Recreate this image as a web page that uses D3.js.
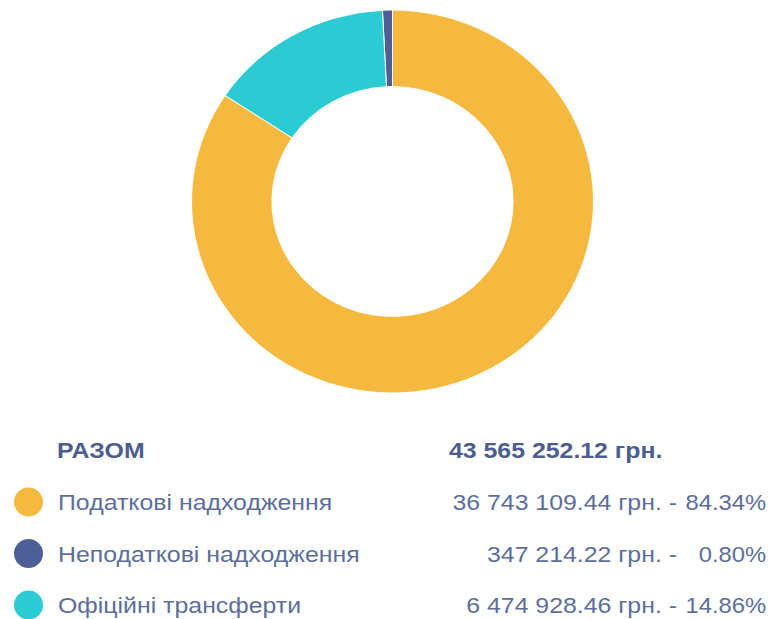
<!DOCTYPE html>
<html>
<head>
<meta charset="utf-8">
<script src="https://cdnjs.cloudflare.com/ajax/libs/d3/7.8.5/d3.min.js"></script>
<style>
  body { margin: 0; background: #fff; }
  svg { display: block; font-family: "Liberation Sans", Arial, sans-serif; }
</style>
</head>
<body>
<svg id="chart" width="773" height="619"></svg>
<script>
var categories = ['Податкові надходження', 'Неподаткові надходження', 'Офіційні трансферти'];
var amounts = [36743109.44, 347214.22, 6474928.46];
var amountLabels = ['36 743 109.44', '347 214.22', '6 474 928.46'];
var percentLabels = ['84.34%', '0.80%', '14.86%'];
var totalLabel = '43 565 252.12 грн.';
var colors = ['#f5b940', '#4e5f97', '#2ccad3'];

var svg = d3.select('#chart');

var cx = 392.5, cy = 201.5;
var outerR = 201;
var squash = 191.5 / 201;

var pie = d3.pie()
    .sortValues(function(a, b) { return b - a; });
var arc = d3.arc()
    .innerRadius(outerR * 0.6)
    .outerRadius(outerR);

var donutG = svg.append('g')
    .attr('transform', 'translate(' + cx + ',' + cy + ') scale(1,' + squash + ')');

donutG.selectAll('path')
    .data(pie(amounts))
    .enter().append('path')
    .attr('d', arc)
    .attr('fill', function(d, i) { return colors[i]; })
    .attr('stroke', '#fff')
    .attr('stroke-width', 1);

// legend - text in the reference is a bit wider than Liberation Sans
var rowY = d3.scalePoint()
    .domain(d3.range(categories.length))
    .range([510, 613]);

var textColor = '#5d6e9e';
var boldColor = '#4c5d91';
var fontSize = 22;

function addText(parent, x, y, str, opts) {
    var t = parent.append('g')
        .attr('transform', 'translate(' + x + ',' + y + ') scale(' + (opts.stretch || 1.13) + ',1)')
        .append('text')
        .attr('font-size', fontSize)
        .attr('fill', opts.bold ? boldColor : textColor)
        .attr('font-weight', opts.bold ? 'bold' : 'normal')
        .attr('text-anchor', opts.anchor || 'start')
        .text(str);
    return t;
}

addText(svg, 57, 458, 'РАЗОМ', {bold: true});
addText(svg, 449, 458, totalLabel, {bold: true});

var rows = svg.selectAll('.legend-row')
    .data(categories)
    .enter().append('g')
    .attr('class', 'legend-row')
    .attr('transform', function(d, i) { return 'translate(0,' + rowY(i) + ')'; });

rows.append('circle')
    .attr('cx', 28.5)
    .attr('cy', -8)
    .attr('r', 14.5)
    .attr('fill', function(d, i) { return colors[i]; });

rows.each(function(d, i) {
    var row = d3.select(this);
    addText(row, 58, 0, d, {});
    addText(row, 677, 0, amountLabels[i] + ' грн. -', {anchor: 'end'});
    addText(row, 766, 0, percentLabels[i], {anchor: 'end', stretch: 1.08});
});
</script>
</body>
</html>
